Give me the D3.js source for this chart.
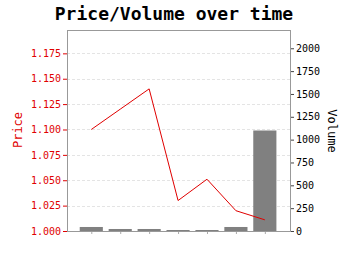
<!DOCTYPE html>
<html>
<head>
<meta charset="utf-8">
<script src="https://cdn.jsdelivr.net/npm/d3@7"></script>
<style>
  body { margin: 0; background: #fff; }
  text { font-family: "DejaVu Sans Mono", monospace; }
</style>
</head>
<body>
<div id="chart"></div>
<script>
// data
var periods = [0, 1, 2, 3, 4, 5, 6];
var prices = [1.100, 1.120, 1.140, 1.030, 1.051, 1.020, 1.011];
var volumes = [44, 22, 22, 11, 11, 44, 1100];
var priceTicks = [1.000, 1.025, 1.050, 1.075, 1.100, 1.125, 1.150, 1.175];
var volumeTicks = [0, 250, 500, 750, 1000, 1250, 1500, 1750, 2000];

var width = 350, height = 255;
var margin = {top: 30, right: 60, bottom: 24, left: 67};
var red = "#e00000";
var axisGray = "#999";

var svg = d3.select("#chart").append("svg")
    .attr("width", width)
    .attr("height", height);

var x = d3.scaleLinear()
    .domain([-0.84, 6.87])
    .range([margin.left, width - margin.right]);

var yPrice = d3.scaleLinear()
    .domain([1.0, 1.198])
    .range([height - margin.bottom, margin.top]);

var yVol = d3.scaleLinear()
    .domain([0, 2200])
    .range([height - margin.bottom, margin.top]);

var step = x(1) - x(0);
var barW = step * 0.8;

// grid
svg.append("g")
  .selectAll("line")
  .data(priceTicks.slice(1))
  .join("line")
    .attr("x1", margin.left)
    .attr("x2", width - margin.right)
    .attr("y1", d => Math.round(yPrice(d)) + 0.5)
    .attr("y2", d => Math.round(yPrice(d)) + 0.5)
    .attr("stroke", "#ddd")
    .attr("stroke-width", 0.8)
    .attr("stroke-dasharray", "3,2");

// bars
svg.append("g")
  .selectAll("rect")
  .data(periods)
  .join("rect")
    .attr("x", d => x(d) - barW / 2)
    .attr("width", barW)
    .attr("y", (d, i) => yVol(volumes[i]))
    .attr("height", (d, i) => yVol(0) - yVol(volumes[i]))
    .attr("fill", "#808080");

// price line
var line = d3.line()
    .x((d, i) => x(periods[i]))
    .y(d => yPrice(d));

svg.append("path")
    .datum(prices)
    .attr("d", line)
    .attr("fill", "none")
    .attr("stroke", red)
    .attr("stroke-width", 1);

// axes
var leftAxis = svg.append("g")
    .attr("transform", `translate(${margin.left},0)`)
    .call(d3.axisLeft(yPrice).tickValues(priceTicks).tickFormat(d3.format(".3f")).tickSize(4).tickPadding(2));
leftAxis.selectAll("text").attr("fill", red).attr("font-size", 10).attr("font-family", "DejaVu Sans Mono");
leftAxis.selectAll(".tick line").attr("stroke", red);
leftAxis.select(".domain").remove();

var rightAxis = svg.append("g")
    .attr("transform", `translate(${width - margin.right},0)`)
    .call(d3.axisRight(yVol).tickValues(volumeTicks).tickFormat(d3.format("d")).tickSize(4).tickPadding(2));
rightAxis.selectAll("text").attr("fill", "#000").attr("font-size", 10).attr("font-family", "DejaVu Sans Mono");
rightAxis.selectAll(".tick line").attr("stroke", "#444");
rightAxis.select(".domain").remove();

var bottomAxis = svg.append("g")
    .attr("transform", `translate(0,${height - margin.bottom})`)
    .call(d3.axisBottom(x).tickValues(periods).tickFormat("").tickSize(3));
bottomAxis.selectAll(".tick line").attr("stroke", "#aaa");
bottomAxis.select(".domain").remove();

// frame
svg.append("rect")
    .attr("x", margin.left + 0.5)
    .attr("y", margin.top + 0.5)
    .attr("width", width - margin.right - margin.left)
    .attr("height", height - margin.bottom - margin.top)
    .attr("fill", "none")
    .attr("stroke", axisGray)
    .attr("stroke-width", 1);

// labels
svg.append("text")
    .attr("x", 174)
    .attr("y", 20)
    .attr("text-anchor", "middle")
    .attr("font-size", 18)
    .attr("font-weight", "bold")
    .text("Price/Volume over time");

svg.append("text")
    .attr("transform", "translate(22,130) rotate(-90)")
    .attr("text-anchor", "middle")
    .attr("fill", red)
    .attr("font-size", 12)
    .text("Price");

svg.append("text")
    .attr("transform", "translate(328,131) rotate(90)")
    .attr("text-anchor", "middle")
    .attr("fill", "#000")
    .attr("font-size", 12)
    .text("Volume");
</script>
</body>
</html>
